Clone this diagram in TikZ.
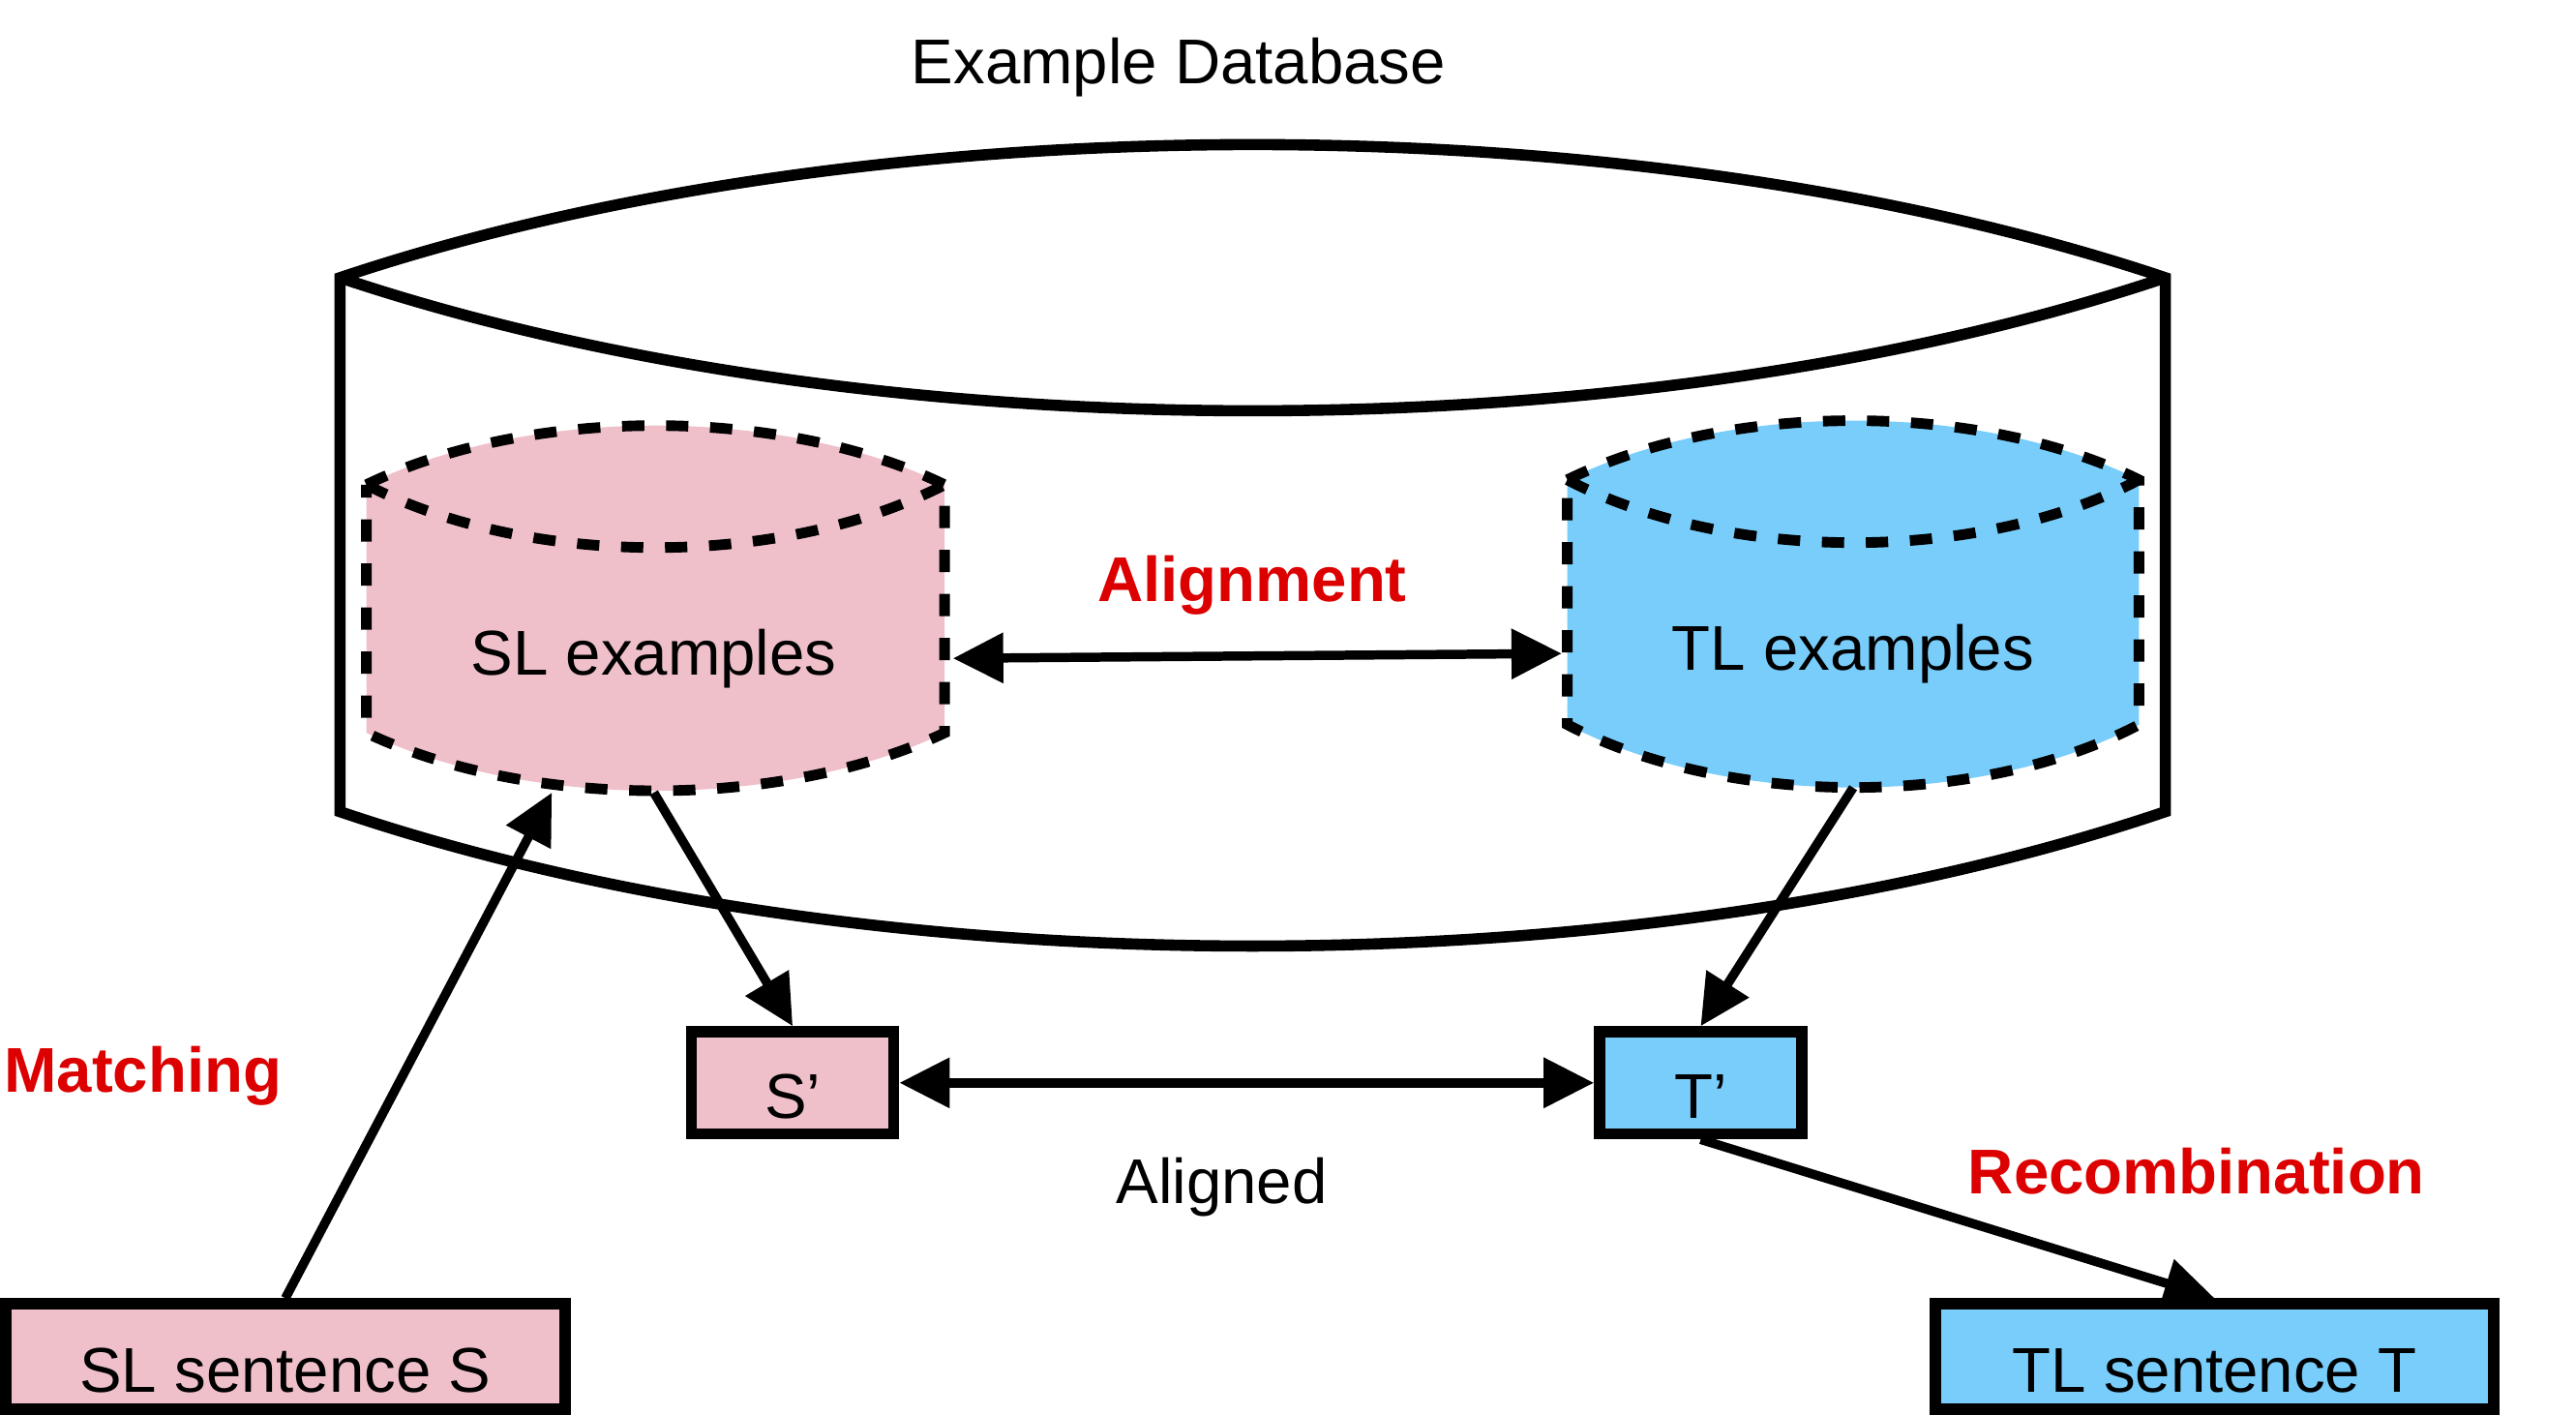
\documentclass[tikz,border=0pt]{standalone}
\usepackage{fontspec}
\setmainfont{Liberation Sans}
\usepackage{tikz}
\usetikzlibrary{arrows.meta,positioning,calc}
\usepackage{xcolor}
\definecolor{dbPink}{HTML}{EFC0CA}
\definecolor{dbSky}{HTML}{78CDFB}
\definecolor{dbRed}{HTML}{DC0000}

\begin{document}
\begin{tikzpicture}[x=.016977cm,y=-.016977cm,>={Triangle[length=.52cm,width=.5cm]}]
  \tikzstyle{dbline}=[draw=black,line width=3.3pt]
  \tikzstyle{dashcyl}=[draw=black,line width=3.1pt,dash pattern=on .23cm off .225cm]
  \tikzstyle{flow}=[line width=2.7pt]
  \tikzstyle{sentbox}=[draw=black,line width=3.3pt,inner sep=0pt,minimum height=1.055cm,text height=21pt,text depth=0pt,font=\fontsize{18.6}{22}\selectfont]
  \tikzstyle{cyltext}=[inner sep=0pt,minimum height=2.76cm,font=\fontsize{18.6}{22}\selectfont]
  \tikzstyle{plainlabel}=[anchor=base,font=\fontsize{18.6}{22}\selectfont]
  \tikzstyle{steplabel}=[anchor=base,text=dbRed,font=\fontsize{18.6}{22}\selectfont\bfseries]
  \useasboundingbox (0,0) rectangle (1568,861);
  % outer database
  \draw[dbline] (207,494) -- (207,169) .. controls (529,61) and (996,61) .. (1318,169) -- (1318,494)
    .. controls (996,603) and (529,603) .. (207,494) -- cycle;
  \draw[dbline] (207,169) .. controls (529,277) and (996,277) .. (1318,169);
  % inner stores
  \path[fill=dbPink,dashcyl] (223,295) .. controls (322,247) and (476,247) .. (575,295) -- (575,446)
    .. controls (476,493) and (322,493) .. (223,446) -- cycle;
  \draw[dashcyl] (223,295) .. controls (322,346) and (476,346) .. (575,295);
  \path[fill=dbSky,dashcyl] (954,292) .. controls (1052,244) and (1205,244) .. (1302,292) -- (1302,441)
    .. controls (1205,492) and (1052,492) .. (954,441) -- cycle;
  \draw[dashcyl] (954,292) .. controls (1052,343) and (1205,343) .. (1302,292);
  \node[cyltext,minimum width=6.01cm] (slex) at (398,400.7) {SL examples};
  \node[cyltext,minimum width=5.91cm] (tlex) at (1128,397.7) {TL examples};
  % sentences
  \node[sentbox,fill=dbPink,minimum width=2.09cm] (sprime) at (482.5,659) {S’};
  \node[sentbox,fill=dbSky,minimum width=2.09cm,right=7.18cm of sprime] (tprime) {T’};
  \node[sentbox,fill=dbPink,minimum width=5.78cm,minimum height=1.09cm] (slsent) at (173.7,825.6) {SL sentence S};
  \node[sentbox,fill=dbSky,minimum width=5.77cm,minimum height=1.09cm] (tlsent) at (1348,825.6) {TL sentence T};
  % labels
  \node[plainlabel] (dbtitle) at (717.4,50.7) {Example Database};
  \node[plainlabel] (aligned) at (743.7,732.4) {Aligned};
  \node[steplabel] (alignment) at (762.2,365.8) {Alignment};
  \node[steplabel] (matching) at (87,664.5) {Matching};
  \node[steplabel] (recomb) at (1337,726.3) {Recombination};
  % arrows
  \draw[flow,<->,shorten <=.08cm,shorten >=.05cm] (slex.east) -- (tlex.west);
  \draw[flow,<->] (sprime) -- (tprime);
  \foreach \a/\b in {slex.south/sprime.north,tlex.south/tprime.north,tprime.south/tlsent.north}{\draw[flow,->] (\a) -- (\b);}
  \draw[flow,->] (slsent.north) -- ($(slex.south west)!.325!(slex.south east)$);
\end{tikzpicture}
\end{document}
